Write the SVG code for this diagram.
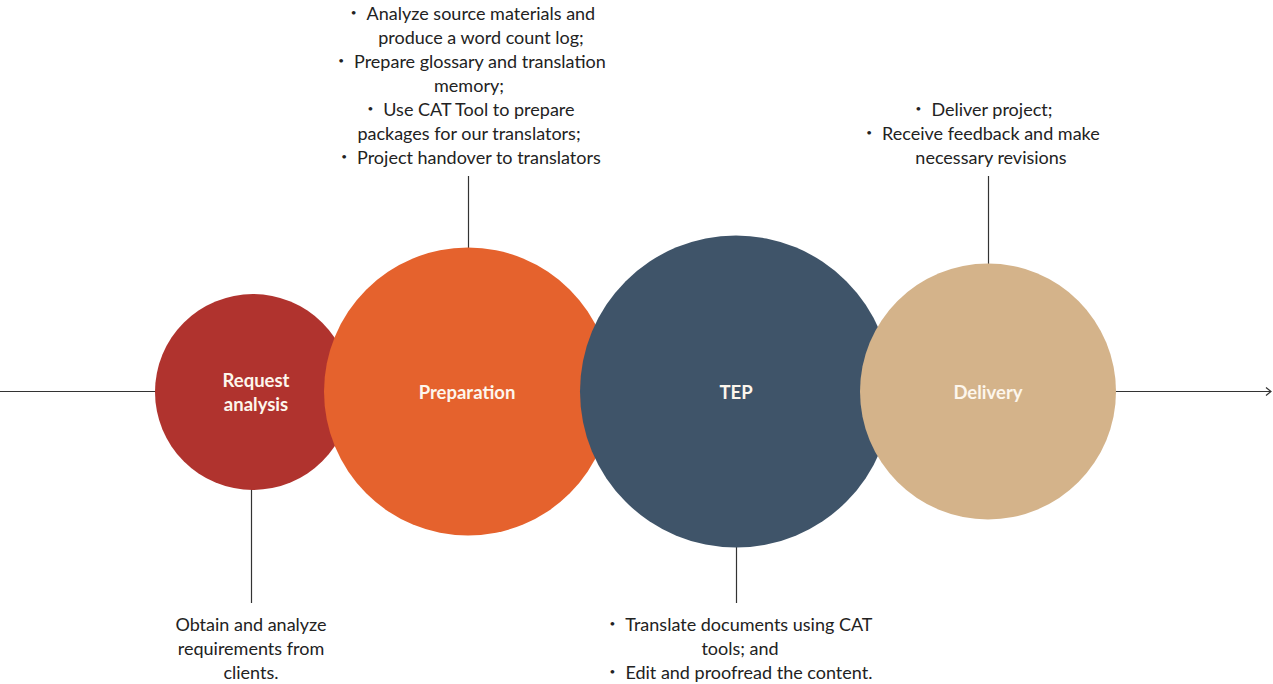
<svg xmlns="http://www.w3.org/2000/svg" width="1273" height="684" viewBox="0 0 1273 684">
<defs>
<style>
.lbl{font-family:Lato,"Noto Sans",sans-serif;font-size:18.5px;font-weight:bold;fill:#fdf6ec;text-anchor:middle}
.txt{font-family:Lato,"Noto Sans",sans-serif;font-size:18px;fill:#222;text-anchor:middle}
.b{font-size:10px}
.ln{stroke:#333;stroke-width:1.2;fill:none}
</style>
<marker id="arr" markerWidth="10" markerHeight="10" refX="8" refY="5" orient="auto" markerUnits="userSpaceOnUse">
<path d="M3,1 L8,5 L3,9" fill="none" stroke="#333" stroke-width="1.2"/>
</marker>
</defs>
<rect width="1273" height="684" fill="#fff"/>
<g id="connectors">
<line class="ln" x1="0" y1="391.5" x2="158" y2="391.5"/>
<line class="ln" x1="1114" y1="391.5" x2="1271" y2="391.5" marker-end="url(#arr)"/>
<line class="ln" x1="251.5" y1="488" x2="251.5" y2="603"/>
<line class="ln" x1="468.5" y1="176" x2="468.5" y2="250"/>
<line class="ln" x1="736.5" y1="545" x2="736.5" y2="603"/>
<line class="ln" x1="988.5" y1="176" x2="988.5" y2="266"/>
</g>
<g id="request">
<circle cx="253" cy="392" r="98" fill="#b0332e"/>
<text class="lbl" x="256" y="387">Request</text>
<text class="lbl" x="256" y="411">analysis</text>
</g>
<g id="preparation">
<circle cx="468" cy="391.5" r="144" fill="#e5622d"/>
<text class="lbl" x="467" y="399">Preparation</text>
</g>
<g id="tep">
<circle cx="736" cy="391.5" r="156" fill="#3f5469"/>
<text class="lbl" x="736" y="399">TEP</text>
</g>
<g id="delivery">
<circle cx="988" cy="391.5" r="128" fill="#d4b38a"/>
<text class="lbl" x="988" y="399">Delivery</text>
</g>
<g id="prep-notes">
<text class="txt" x="473" y="20"><tspan class="b" dy="-4">•</tspan><tspan dy="4" dx="10">Analyze source materials and</tspan></text>
<text class="txt" x="481" y="44">produce a word count log;</text>
<text class="txt" x="472" y="68"><tspan class="b" dy="-4">•</tspan><tspan dy="4" dx="10">Prepare glossary and translation</tspan></text>
<text class="txt" x="469" y="92">memory;</text>
<text class="txt" x="471" y="116"><tspan class="b" dy="-4">•</tspan><tspan dy="4" dx="10">Use CAT Tool to prepare</tspan></text>
<text class="txt" x="469" y="140">packages for our translators;</text>
<text class="txt" x="471" y="164"><tspan class="b" dy="-4">•</tspan><tspan dy="4" dx="10">Project handover to translators</tspan></text>
</g>
<g id="delivery-notes">
<text class="txt" x="984" y="116"><tspan class="b" dy="-4">•</tspan><tspan dy="4" dx="10">Deliver project;</tspan></text>
<text class="txt" x="983" y="140"><tspan class="b" dy="-4">•</tspan><tspan dy="4" dx="10">Receive feedback and make</tspan></text>
<text class="txt" x="991" y="164">necessary revisions</text>
</g>
<g id="request-notes">
<text class="txt" x="251" y="631">Obtain and analyze</text>
<text class="txt" x="251" y="655">requirements from</text>
<text class="txt" x="251" y="679">clients.</text>
</g>
<g id="tep-notes">
<text class="txt" x="741" y="631"><tspan class="b" dy="-4">•</tspan><tspan dy="4" dx="10">Translate documents using CAT</tspan></text>
<text class="txt" x="740" y="655">tools; and</text>
<text class="txt" x="741" y="679"><tspan class="b" dy="-4">•</tspan><tspan dy="4" dx="10">Edit and proofread the content.</tspan></text>
</g>
</svg>
